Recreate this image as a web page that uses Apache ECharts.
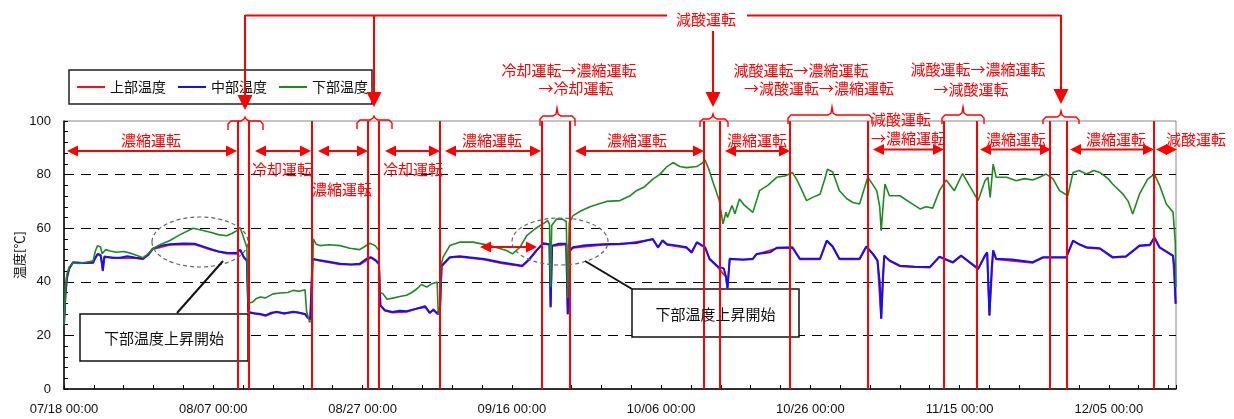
<!DOCTYPE html>
<html>
<head>
<meta charset="utf-8">
<script src="https://cdn.jsdelivr.net/npm/echarts@6/dist/echarts.min.js"></script>
<style>
  html, body { margin: 0; padding: 0; background: #fff; }
  #chart { width: 1234px; height: 419px; }
</style>
</head>
<body>
<div id="chart"></div>
<script>
// x = days since 07/18 00:00
const seriesNames = ['上部温度', '中部温度', '下部温度']
const labelEvery = 20
const switchDays = [23.3, 24.7, 33.2, 40.7, 42.2, 50.4, 64.0, 67.8, 85.7, 87.8, 97.3, 107.7, 117.9, 122.3, 132.1, 134.4, 146.0]

const upperTemp = [[0,24],[0.2,35],[0.4,41],[0.7,45],[1.2,47],[3.9,47],[4.2,48.8],[4.5,50.2],[4.9,49.8],[5.2,44],[5.4,49.2],[7.5,48.8],[9.6,48.8],[10.6,48.4],[11.9,52.2],[14.2,53.8],[17.5,54],[19.6,52],[21.8,50.5],[23.1,50.4],[23.6,51.8],[24.1,49],[24.5,47.8],[24.7,28.5],[26.3,27.8],[27,27.3],[28.5,28.9],[29.5,28],[30.7,28.9],[32.3,27.8],[32.6,26.7],[33,25.8],[33.3,48.4],[34.3,47.8],[37,46.5],[39.6,46.4],[41.1,49],[41.8,47.8],[42.2,46.4],[42.4,31],[43,29.2],[44,28.5],[45.9,28.8],[48.4,31],[49,28.3],[49.5,29.8],[50.1,27.8],[50.4,31],[50.6,45.8],[51.7,49],[53,49.3],[56.3,48.3],[58.5,47],[61.4,45.8],[62.4,48.4],[63.3,51.5],[64.2,54.2],[65.05,53.8],[65.2,30.4],[65.4,53.3],[67.3,54],[67.5,27.8],[67.7,51.3],[68.2,52.7],[72.2,53.8],[74.5,54],[78.9,55.8],[79.6,52.7],[80.2,55.3],[80.8,53.8],[83.4,52.7],[84.1,50.8],[84.8,54.6],[85.9,52.7],[86.5,48.4],[87.6,45.5],[88.7,41.8],[88.9,37.3],[89.2,48.4],[92.3,48.4],[92.8,50.2],[95.5,52.5],[97.6,52.7],[98.6,48.4],[101.3,48.4],[102.2,55.2],[103,53],[103.9,48.4],[106.6,48.4],[107.5,53],[108.4,50.2],[109,47.8],[109.5,26.1],[109.9,49.6],[110.6,47.8],[112,45.8],[116,45.3],[117.3,49.2],[119.1,47.1],[120.2,49.6],[122.5,44.7],[123.4,49.6],[123.7,50.8],[124,27.3],[124.5,51.5],[124.9,48.4],[129.8,47.1],[131.2,49],[134.3,49],[135.2,55.2],[137,52.7],[138.8,52.3],[140.5,49],[142.3,49.3],[144.1,53.3],[145.5,53.6],[146.1,56.4],[146.8,52.7],[148.6,49.6],[148.95,31.7]]

const middleTemp = [[0,24],[0.2,36],[0.4,42],[0.7,45],[1.2,47.3],[2.5,47],[3.9,47.3],[4.2,49],[4.5,50.4],[4.9,50],[5.1,47],[5.2,44.2],[5.4,49.4],[6.5,49],[7.5,49],[8.5,49.5],[9.6,49],[10.6,48.7],[11.3,50],[11.9,52.4],[13,53.5],[14.2,54],[16,54.3],[17.5,54.2],[18.5,53.3],[19.6,52.3],[20.7,51.3],[21.8,50.8],[23.1,50.7],[23.6,52],[24.1,49.2],[24.5,48],[24.7,28.7],[25.5,28.3],[26.3,28],[27,27.5],[27.8,28.5],[28.5,28.7],[29.5,28.3],[30.7,28.7],[31.5,28.5],[32.3,28],[32.6,26.9],[33,26],[33.3,48.6],[34.3,48],[35.5,47.5],[37,46.7],[38.5,46.5],[39.6,46.7],[40.5,48.5],[41.1,49.2],[41.8,48],[42.2,46.7],[42.4,31.2],[43,29.4],[44,28.7],[45,29.2],[45.9,29],[47.3,30],[48.4,30.6],[49,28.5],[49.5,29.5],[50.1,28],[50.4,31],[50.6,46],[51.7,49.2],[53,49.5],[54.8,49],[56.3,48.5],[58.5,47.3],[61.4,46],[62.4,48.6],[63.3,51.7],[64.2,54.4],[65.05,54],[65.2,30.6],[65.4,53.5],[66.3,54.2],[67.3,54.2],[67.5,28],[67.7,51.5],[68.2,52.9],[69.5,53.5],[72.2,54],[74.5,54.2],[76.7,54.5],[78.9,56],[79.6,52.9],[80.2,55.5],[80.8,54],[82.2,53.5],[83.4,52.9],[84.1,51],[84.8,54.8],[85.9,52.9],[86.5,48.6],[87.6,45.7],[88.4,45],[88.7,42],[88.9,37.5],[89.2,48.6],[91,48.2],[92.3,48.6],[92.8,50.4],[94.6,51],[95.5,52.7],[97.6,52.9],[98.6,48.6],[101.3,48.6],[102.2,55.4],[103,53.2],[103.9,48.6],[106.6,48.6],[107.5,53.2],[108.4,50.4],[109,48],[109.3,40],[109.5,26.3],[109.7,40],[109.9,49.8],[110.6,48],[112,46],[114,45.6],[116,45.5],[117.3,49.4],[119.1,47.3],[120.2,49.8],[121.5,47],[122.5,44.9],[123.4,49.8],[123.7,51],[124,27.5],[124.3,45],[124.5,51.7],[124.9,48.6],[127,48.3],[129.8,47.3],[131.2,49.2],[134.3,49.2],[135.2,55.4],[136,54],[137,52.9],[138.8,52.5],[140.5,49.2],[142.3,49.5],[144.1,53.5],[145.5,53.8],[146.1,56.6],[146.8,52.9],[148.6,49.8],[148.8,45],[148.95,31.9]]

const lowerTemp = [[0,24],[0.2,38],[0.4,43],[0.7,45.5],[1.2,47],[2,46.8],[3,47.3],[3.9,47.8],[4.2,51.5],[4.5,53.5],[4.9,53],[5.1,50.5],[5.3,50.2],[5.6,52],[6.2,51.5],[7,51],[8,51.3],[9,50.6],[9.6,50],[10.6,49],[11.3,50.5],[11.9,52.4],[13,54],[14.2,55.4],[15.5,57.5],[17.3,60],[18.5,59.2],[19.6,58.5],[20.7,57.6],[21.8,57.2],[22.5,58],[23.1,59],[23.6,60.2],[24,57],[24.5,52.9],[24.7,32],[25.3,32.5],[25.8,33.8],[26.3,34.3],[27,34],[28,35.5],[29,35.8],[30,36],[30.7,36.8],[31.5,36.5],[32.3,37],[32.5,29],[32.9,25],[33.2,25.5],[33.4,56],[33.8,54],[34.3,53.5],[35.5,53.8],[37,53.5],[38.3,52.5],[39.6,52],[40.2,53],[41,54.4],[41.7,53.5],[42.2,51.7],[42.3,36],[42.7,35.6],[43.3,33.5],[44.2,34],[45,34.5],[45.9,35],[46.6,36],[47.3,37.4],[47.9,39],[48.6,38],[49.3,39.3],[50,39.9],[50.15,28],[50.4,30],[50.5,46],[50.8,49.2],[51.7,53.5],[53,54.8],[54.8,54.8],[57.1,53.5],[59.3,51.7],[60.1,50.4],[61.1,52.9],[62,57.2],[63.1,59.7],[63.8,61],[64.2,61.6],[64.8,62.8],[65.05,61.5],[65.2,38],[65.35,61],[66,63.4],[66.8,63.4],[67.3,62.5],[67.5,34],[67.7,62],[68.2,64.7],[69.3,66.5],[70.5,68],[71.6,69],[72.7,70],[74.5,70.3],[75.8,72],[76.7,74],[77.8,75.5],[78.9,78.3],[79.8,80],[80.8,83],[81.6,84.5],[82.5,83],[83.4,82.6],[84.8,83],[85.6,84.5],[85.9,85.4],[86.4,82],[86.9,77.7],[87.8,70.3],[88.3,61.6],[88.7,66],[88.9,64],[89.5,68.5],[89.9,65.4],[90.5,70.9],[91.2,68.5],[92.3,65.9],[93.2,74],[94.3,76],[95.5,79],[96.6,79.5],[97.6,80.8],[98.2,78],[98.8,74.6],[99.5,70.3],[100.3,71.5],[101.3,72.7],[101.9,78],[102.3,82],[103,81],[103.9,74],[104.9,71],[105.7,69.6],[106.6,69],[107.7,79],[108.2,77],[108.9,74],[109.3,68],[109.5,59.1],[109.8,70],[110,76.5],[110.6,72.1],[112,72.1],[113.7,69],[114.7,67.2],[115.5,68],[116.4,67.5],[117.3,74],[118.2,78],[119.3,74],[120.4,80.4],[121.3,76],[122.5,70.3],[123.4,77.7],[123.8,79],[124.1,71.5],[124.5,83.9],[124.9,79],[126.3,79],[127.6,77.7],[128.7,78.5],[129.8,78],[130.7,79],[131.6,80.2],[132.5,78.5],[133.4,74],[134.5,72.1],[135.2,80.8],[136,81.5],[137,80.2],[138,81.5],[138.8,80.8],[139.9,78.5],[140.5,76.5],[141.9,72.7],[142.6,70],[143.2,65.3],[144.1,72.7],[145.2,78.3],[146.1,80.2],[146.8,76],[147.7,69],[148.6,66],[148.8,65.3],[148.9,55],[149,38]]

const RED = '#ff0000'
const CJK = '"Noto Sans CJK JP"'

function pad(n) { return (n < 10 ? '0' : '') + n }
function dayLabel(v) {
  if (Math.abs(v % labelEvery) > 1e-6) return ''
  const d = new Date(2000, 6, 18 + Math.round(v))
  return pad(d.getMonth() + 1) + '/' + pad(d.getDate()) + ' 00:00'
}

// annotation drawing helpers (pixel coords)
const G = []
function txt(s, x, y, color, size, align) {
  G.push({ type: 'text', x: x, y: y, z: 20, silent: true,
    style: { text: s, fill: color, font: size + 'px ' + CJK, align: align || 'center', verticalAlign: 'middle' } })
}
function seg(points, color, w, z) {
  G.push({ type: 'polyline', z: z || 20, silent: true, shape: { points: points }, style: { stroke: color, lineWidth: w, fill: 'none' } })
}
function tri(points, color) {
  G.push({ type: 'polygon', z: 20, silent: true, shape: { points: points }, style: { fill: color } })
}
function arrowBoth(x1, x2, y) {
  seg([[x1 + 8, y], [x2 - 8, y]], RED, 2)
  tri([[x1, y], [x1 + 11, y - 5.5], [x1 + 11, y + 5.5]], RED)
  tri([[x2, y], [x2 - 11, y - 5.5], [x2 - 11, y + 5.5]], RED)
}
function arrowDown(x, y0, tip) {
  seg([[x, y0], [x, tip - 10]], RED, 2)
  tri([[x - 7.5, tip - 15], [x + 7.5, tip - 15], [x, tip]], RED)
}
function brace(x1, x2, xc, tip, h, end) {
  seg([[x1, end], [x1, h + 3], [x1 + 3, h], [xc - 4, h], [xc - 1, h - 2], [xc, tip], [xc + 1, h - 2], [xc + 4, h], [x2 - 3, h], [x2, h + 3], [x2, end]], RED, 1.4)
}
function callout(x, y, w, h, s, from, to) {
  G.push({ type: 'rect', z: 1, silent: true, shape: { x: x, y: y, width: w, height: h }, style: { fill: '#fff', stroke: '#111', lineWidth: 1.5 } })
  txt(s, x + w / 2, y + h / 2 + 1, '#111', 15)
  seg([from, to], '#111', 2)
}
function ring(cx, cy, rx, ry) {
  G.push({ type: 'ellipse', z: 20, silent: true, shape: { cx: cx, cy: cy, rx: rx, ry: ry }, style: { stroke: '#666', lineWidth: 1.2, lineDash: [4, 3], fill: 'none' } })
}

// top bracket: 減酸運転
seg([[245, 15.5], [667, 15.5]], RED, 2)
seg([[747, 15.5], [1061, 15.5]], RED, 2)
txt('減酸運転', 706, 19, RED, 15)
arrowDown(245, 15, 110)
arrowDown(374, 15, 107)
arrowDown(713, 31, 107)
arrowDown(1061, 15, 104)

brace(228, 263, 245, 117, 121, 130)
brace(357, 392, 374, 116, 120, 129)
brace(540, 575, 557, 108, 116, 126)
brace(700, 728, 713, 114, 119, 127)
brace(788, 872, 832, 107, 115, 124)
brace(942, 984, 963, 107, 115, 124)
brace(1043, 1079, 1061, 111, 117, 124)

txt('冷却運転→濃縮運転', 569, 70, RED, 15)
txt('→冷却運転', 576, 88, RED, 15)
txt('減酸運転→濃縮運転', 801, 70, RED, 15)
txt('→減酸運転→濃縮運転', 819, 88, RED, 15)
txt('減酸運転→濃縮運転', 978, 69, RED, 15)
txt('→減酸運転', 971, 89, RED, 15)

// mode arrows inside the plot
arrowBoth(67, 237, 151)
arrowBoth(255, 311, 151)
arrowBoth(318, 368, 151)
arrowBoth(385, 440, 151)
arrowBoth(445, 541, 151)
arrowBoth(575, 704, 151)
arrowBoth(725, 790, 151)
arrowBoth(873, 944, 149.5)
arrowBoth(980, 1051, 149.5)
arrowBoth(1070, 1154, 149.5)
arrowBoth(1156, 1177, 149.5)
arrowBoth(480, 537, 247)

txt('濃縮運転', 151, 140, RED, 15)
txt('冷却運転', 282, 169, RED, 15)
txt('濃縮運転', 342, 189, RED, 15)
txt('冷却運転', 413, 169, RED, 15)
txt('濃縮運転', 492, 140, RED, 15)
txt('濃縮運転', 637, 140, RED, 15)
txt('濃縮運転', 757, 140, RED, 15)
txt('減酸運転', 871, 119, RED, 15, 'left')
txt('→濃縮運転', 871, 138, RED, 15, 'left')
txt('濃縮運転', 1016, 139, RED, 15)
txt('濃縮運転', 1116, 139, RED, 15)
txt('減酸運転', 1196, 139, RED, 15)

ring(200, 242, 48, 25)
ring(560, 241.5, 48, 23.5)
callout(80, 314, 168, 47, '下部温度上昇開始', [177, 313], [223, 261])
callout(632, 289, 167, 48, '下部温度上昇開始', [632, 289], [585, 261])

const chart = echarts.init(document.getElementById('chart'))

const option = {
  animation: false,
  textStyle: { fontFamily: CJK },
  grid: {
    left: 64, right: 58, top: 121, bottom: 30,
    containLabel: false, outerBoundsMode: 'none',
    show: true, borderColor: '#888', borderWidth: 1
  },
  legend: {
    left: 69, top: 70,
    icon: 'rect', itemWidth: 28, itemHeight: 2, itemGap: 12,
    padding: [10, 4, 10, 8],
    borderColor: '#222', borderWidth: 1.5,
    textStyle: { fontSize: 14, color: '#111', fontFamily: CJK },
    data: seriesNames
  },
  xAxis: {
    type: 'value', min: 0, max: 149, interval: 4,
    axisLine: { lineStyle: { color: '#000', width: 1.5 } },
    axisTick: { inside: true, length: 4, lineStyle: { color: '#000' } },
    axisLabel: { formatter: dayLabel, color: '#111', fontSize: 13, margin: 14, fontFamily: 'Liberation Sans' },
    splitLine: { show: false }
  },
  yAxis: {
    type: 'value', min: 0, max: 100, interval: 20,
    name: '温度[℃]', nameLocation: 'middle', nameGap: 38, nameMoveOverlap: false,
    nameTextStyle: { fontSize: 13, color: '#111' },
    axisLine: { show: true, lineStyle: { color: '#000', width: 1.5 } },
    axisTick: { show: true, inside: true, length: 4, lineStyle: { color: '#000' } },
    minorTick: { show: true, splitNumber: 5, length: 4, lineStyle: { color: '#000' } },
    axisLabel: { color: '#111', fontSize: 13, margin: 13, fontFamily: 'Liberation Sans' },
    splitLine: { show: true, showMinLine: false, showMaxLine: false, lineStyle: { color: '#000', type: [10, 7], width: 1.2 } }
  },
  series: [
    {
      name: seriesNames[0], type: 'line', data: upperTemp, showSymbol: false, symbol: 'none',
      color: '#ff1010', lineStyle: { width: 1.8 }
    },
    {
      name: seriesNames[1], type: 'line', data: middleTemp, showSymbol: false, symbol: 'none',
      color: '#1010ff', lineStyle: { width: 2 }
    },
    {
      name: seriesNames[2], type: 'line', data: lowerTemp, showSymbol: false, symbol: 'none',
      color: '#1f8a1f', lineStyle: { width: 1.6 },
      markLine: {
        silent: true, symbol: ['none', 'none'], label: { show: false },
        lineStyle: { color: RED, width: 2, type: 'solid' },
        emphasis: { disabled: true },
        data: switchDays.map(d => ({ xAxis: d }))
      }
    }
  ],
  graphic: { elements: G }
}

chart.setOption(option)
</script>
</body>
</html>
